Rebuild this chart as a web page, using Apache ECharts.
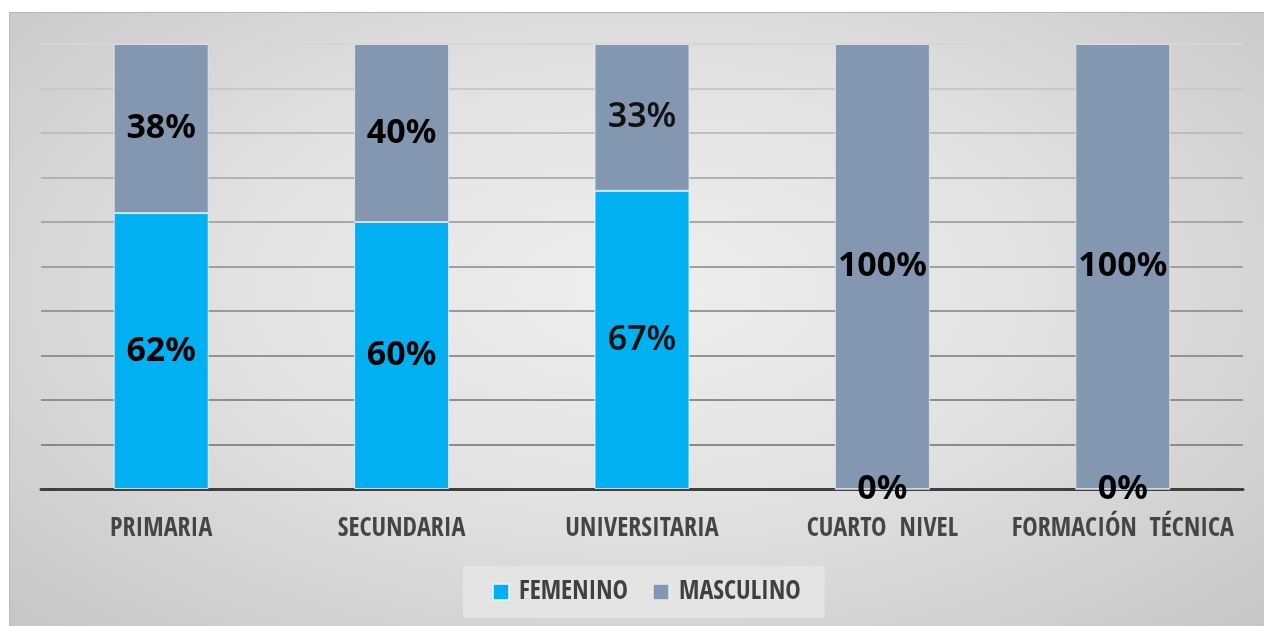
<!DOCTYPE html>
<html>
<head>
<meta charset="utf-8">
<script src="https://cdn.jsdelivr.net/npm/echarts@6/dist/echarts.min.js"></script>
<style>
  html, body { margin: 0; padding: 0; background: #ffffff; }
  #frame {
    position: absolute; left: 9px; top: 12px; width: 1255px; height: 614px;
    border-top: 1px solid #b4b4b4; border-left: 1px solid #bcbcbc;
    background: radial-gradient(ellipse at 50% 45%, #eeeeee 0%, #e2e2e2 45%, #c6c6c6 100%);
  }
  #chart { width: 1255px; height: 614px; }
</style>
</head>
<body>
<div id="frame"><div id="chart"></div></div>
<script>
var categories = ['PRIMARIA', 'SECUNDARIA', 'UNIVERSITARIA', 'CUARTO  NIVEL', 'FORMACIÓN  TÉCNICA'];
var femenino = [62, 60, 67, 0, 0];
var masculino = [38, 40, 33, 100, 100];
var seriesNames = ['FEMENINO', 'MASCULINO'];
var colors = ['#00b0f0', '#8497b0'];

// lines get lighter towards the top, like the original
var gridColors = ['#808080', '#8a8a8a', '#8e8e8e', '#939393', '#999999', '#a0a0a0',
                  '#a8a8a8', '#b2b2b2', '#bdbdbd', '#c8c8c8', '#d6d6d6'];

var narrowFont = '"Open Sans Condensed", "Roboto Condensed", sans-serif';

function valueLabels(data) {
    var out = [];
    for (var i = 0; i < data.length; i++) {
        out.push({
            value: data[i],
            label: i === 2 ? { fontWeight: 600, color: '#111111' } : {}
        });
    }
    return out;
}

var myChart = echarts.init(document.getElementById('chart'));
myChart.setOption({
    backgroundColor: 'transparent',
    animation: false,
    grid: { left: 31, right: 22, top: 31, bottom: 138 },
    legend: {
        data: seriesNames,
        left: 453, top: 553,
        padding: [13, 24, 13, 29],
        backgroundColor: '#e4e4e4',
        itemWidth: 16, itemHeight: 16, itemGap: 24,
        icon: 'rect',
        textStyle: {
            fontFamily: narrowFont, fontWeight: 'bold', fontSize: 26,
            color: '#404040', padding: [0, 0, 0, 5]
        }
    },
    xAxis: {
        type: 'category',
        data: categories,
        axisLine: { lineStyle: { color: '#404040', width: 3 } },
        axisTick: { show: false },
        axisLabel: {
            margin: 27,
            interval: 0,
            fontFamily: narrowFont, fontWeight: 'bold', fontSize: 26,
            color: '#454545'
        }
    },
    yAxis: {
        type: 'value',
        min: 0, max: 100, interval: 10,
        axisLabel: { show: false },
        axisLine: { show: false },
        axisTick: { show: false },
        splitLine: { lineStyle: { color: gridColors, width: 2 } }
    },
    series: [{
        name: seriesNames[0],
        type: 'bar',
        stack: 'total',
        barWidth: '39.5%',
        itemStyle: { color: colors[0], borderColor: 'rgba(230,245,255,0.8)', borderWidth: 1 },
        label: {
            show: true, position: 'inside', formatter: '{c}%',
            fontFamily: '"Noto Sans", "Open Sans", sans-serif',
            fontWeight: 'bold', fontSize: 34, color: '#000000'
        },
        data: valueLabels(femenino)
    }, {
        name: seriesNames[1],
        type: 'bar',
        stack: 'total',
        itemStyle: { color: colors[1], borderColor: 'rgba(225,232,242,0.8)', borderWidth: 1 },
        label: {
            show: true, position: 'inside', formatter: '{c}%',
            fontFamily: '"Noto Sans", "Open Sans", sans-serif',
            fontWeight: 'bold', fontSize: 34, color: '#000000'
        },
        data: valueLabels(masculino)
    }]
});
</script>
</body>
</html>
